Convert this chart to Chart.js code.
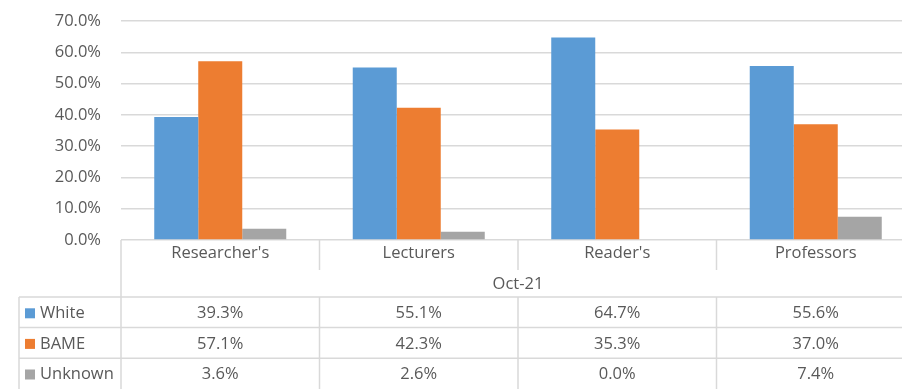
<!DOCTYPE html>
<html>
<head>
<meta charset="utf-8">
<script src="https://cdn.jsdelivr.net/npm/chart.js"></script>
<style>
  html, body { margin: 0; padding: 0; background: #fff; overflow: hidden; }
  #wrap { width: 920px; height: 389px; }
</style>
</head>
<body>
<div id="wrap"><canvas id="chart" width="920" height="389"></canvas></div>
<script>
const categories = ["Researcher's", "Lecturers", "Reader's", "Professors"];
const period = "Oct-21";
const seriesNames = ["White", "BAME", "Unknown"];
const white = [39.3, 55.1, 64.7, 55.6];
const bame = [57.1, 42.3, 35.3, 37.0];
const unknown = [3.6, 2.6, 0.0, 7.4];
const yTicks = [0, 10, 20, 30, 40, 50, 60, 70];

const barColors = ["#5B9BD5", "#ED7D31", "#A5A5A5"];
const gridColor = "#d9d9d9";
const textColor = "#595959";
const fontFamily = "'Open Sans', sans-serif";
const fontSize = 16.5;

const seriesValues = [white, bame, unknown];
const fmt = v => v.toFixed(1) + "%";

// data table under the axis, in the same columns as the categories
const dataTable = {
  id: "dataTable",
  afterDraw(chart) {
    const ctx = chart.ctx;
    const xs = chart.scales.x;
    const area = chart.chartArea;
    const half = (xs.getPixelForValue(1) - xs.getPixelForValue(0)) / 2;
    const edges = categories.map((c, i) => xs.getPixelForValue(i) - half);
    edges.push(xs.getPixelForValue(categories.length - 1) + half);

    const bottom = chart.height;
    const labelRow = area.bottom + 30;
    const tableTop = area.bottom + 57;
    const rowH = 30.6;
    const tableLeft = 19;

    ctx.save();
    ctx.strokeStyle = gridColor;
    ctx.lineWidth = 1.5;
    ctx.beginPath();
    // column separators
    edges.forEach((x, i) => {
      if (i === 0) {
        ctx.moveTo(x, area.bottom); ctx.lineTo(x, bottom);
      } else {
        ctx.moveTo(x, area.bottom); ctx.lineTo(x, labelRow);
        ctx.moveTo(x, tableTop); ctx.lineTo(x, bottom);
      }
    });
    // row lines and left border
    for (let r = 0; r < seriesNames.length; r++) {
      const y = tableTop + r * rowH;
      ctx.moveTo(tableLeft, y); ctx.lineTo(edges[edges.length - 1], y);
    }
    ctx.moveTo(tableLeft, tableTop); ctx.lineTo(tableLeft, bottom);
    ctx.stroke();

    ctx.fillStyle = textColor;
    ctx.font = fontSize + "px " + fontFamily;
    ctx.textBaseline = "middle";
    ctx.textAlign = "center";
    ctx.fillText(period, (edges[0] + edges[edges.length - 1]) / 2, area.bottom + 44);

    seriesNames.forEach((name, r) => {
      const yMid = tableTop + r * rowH + rowH / 2 + 1;
      ctx.fillStyle = barColors[r];
      ctx.fillRect(25, yMid - 5, 10, 10);
      ctx.fillStyle = textColor;
      ctx.textAlign = "left";
      ctx.fillText(name, 40, yMid);
      ctx.textAlign = "center";
      seriesValues[r].forEach((v, i) => {
        ctx.fillText(fmt(v), xs.getPixelForValue(i), yMid);
      });
    });
    ctx.restore();
  }
};

new Chart("chart", {
  type: "bar",
  data: {
    labels: categories,
    datasets: seriesNames.map((name, i) => ({
      label: name,
      data: seriesValues[i],
      backgroundColor: barColors[i],
      barPercentage: 1,
      categoryPercentage: 0.665
    }))
  },
  options: {
    responsive: false,
    devicePixelRatio: 1,
    animation: false,
    layout: { padding: { top: 21, right: 5, left: 0, bottom: 0 } },
    plugins: {
      legend: { display: false },
      tooltip: { enabled: false }
    },
    scales: {
      x: {
        grid: { display: false, drawTicks: false },
        border: { display: false },
        ticks: {
          color: textColor,
          font: { family: fontFamily, size: fontSize },
          padding: 3,
          maxRotation: 0,
          autoSkip: false
        },
        afterFit: s => { s.height = 149; }
      },
      y: {
        min: yTicks[0],
        max: yTicks[yTicks.length - 1],
        afterBuildTicks: s => { s.ticks = yTicks.map(v => ({ value: v })); },
        grid: { color: gridColor, lineWidth: 1.5, tickLength: 20, tickColor: "transparent" },
        border: { display: false },
        ticks: {
          color: textColor,
          font: { family: fontFamily, size: fontSize },
          padding: 0,
          callback: v => fmt(v)
        },
        afterFit: s => { s.width = 121; }
      }
    }
  },
  plugins: [dataTable]
});
</script>
</body>
</html>
